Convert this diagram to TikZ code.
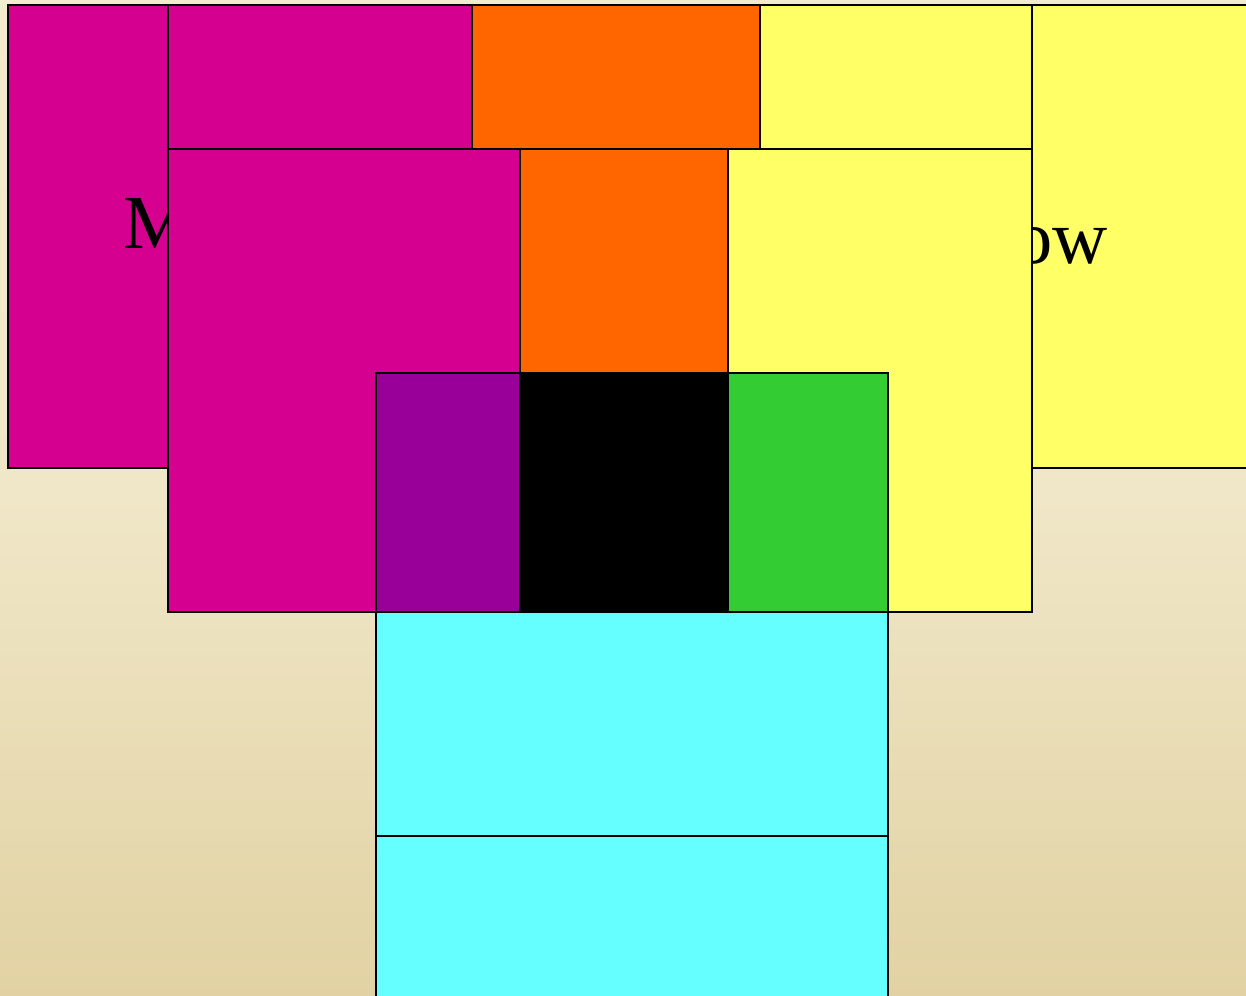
\documentclass[tikz,border=0pt]{standalone}
\usepackage{fontspec}
\setmainfont{Liberation Serif}
\definecolor{mag}{RGB}{213,0,143}
\definecolor{org}{RGB}{255,102,0}
\definecolor{yel}{RGB}{255,255,102}
\definecolor{pur}{RGB}{153,0,153}
\definecolor{grn}{RGB}{51,204,51}
\definecolor{cya}{RGB}{102,255,255}
\definecolor{bgtop}{RGB}{243,235,207}
\definecolor{bgmid}{RGB}{240,231,200}
\definecolor{bgbot}{RGB}{226,210,163}
\tikzset{
  panel/.style={draw=black, line width=0.04cm, fill=#1},
  bigtext/.style={inner sep=0pt, font=\fontsize{43.5pt}{50pt}\selectfont, text=black}
}
\begin{document}
\begin{tikzpicture}[x=0.02cm, y=-0.02cm]
\useasboundingbox (0,0) rectangle (1246,995);
\clip (0,0) rectangle (1246,995);
% parchment background
\shade[top color=bgtop, bottom color=bgbot, middle color=bgmid] (0,0) rectangle (1246,995);
% back panels
\path[panel=mag] (8,5) rectangle (300,468);
\path[panel=yel] (900,5) rectangle (1260,468);
\node[bigtext, anchor=base west] (tm) at (123,248) {M};
\node[bigtext, anchor=base east] (tow) at (1108,263) {ow};
% top row
\path[panel=mag] (168,5) rectangle (472,149);
\path[panel=org] (472,5) rectangle (760,149);
\path[panel=yel] (760,5) rectangle (1032,149);
% second row
\path[panel=mag] (168,149) rectangle (520,612);
\path[panel=org] (520,149) rectangle (728,373);
\path[panel=yel] (728,149) rectangle (1032,612);
% middle group
\path[panel=pur] (376,373) rectangle (520,612);
\path[panel=black] (520,373) rectangle (728,612);
\path[panel=grn] (728,373) rectangle (888,612);
% cyan
\path[panel=cya] (376,612) rectangle (888,836);
\path[panel=cya] (376,836) rectangle (888,1010);
\end{tikzpicture}
\end{document}
